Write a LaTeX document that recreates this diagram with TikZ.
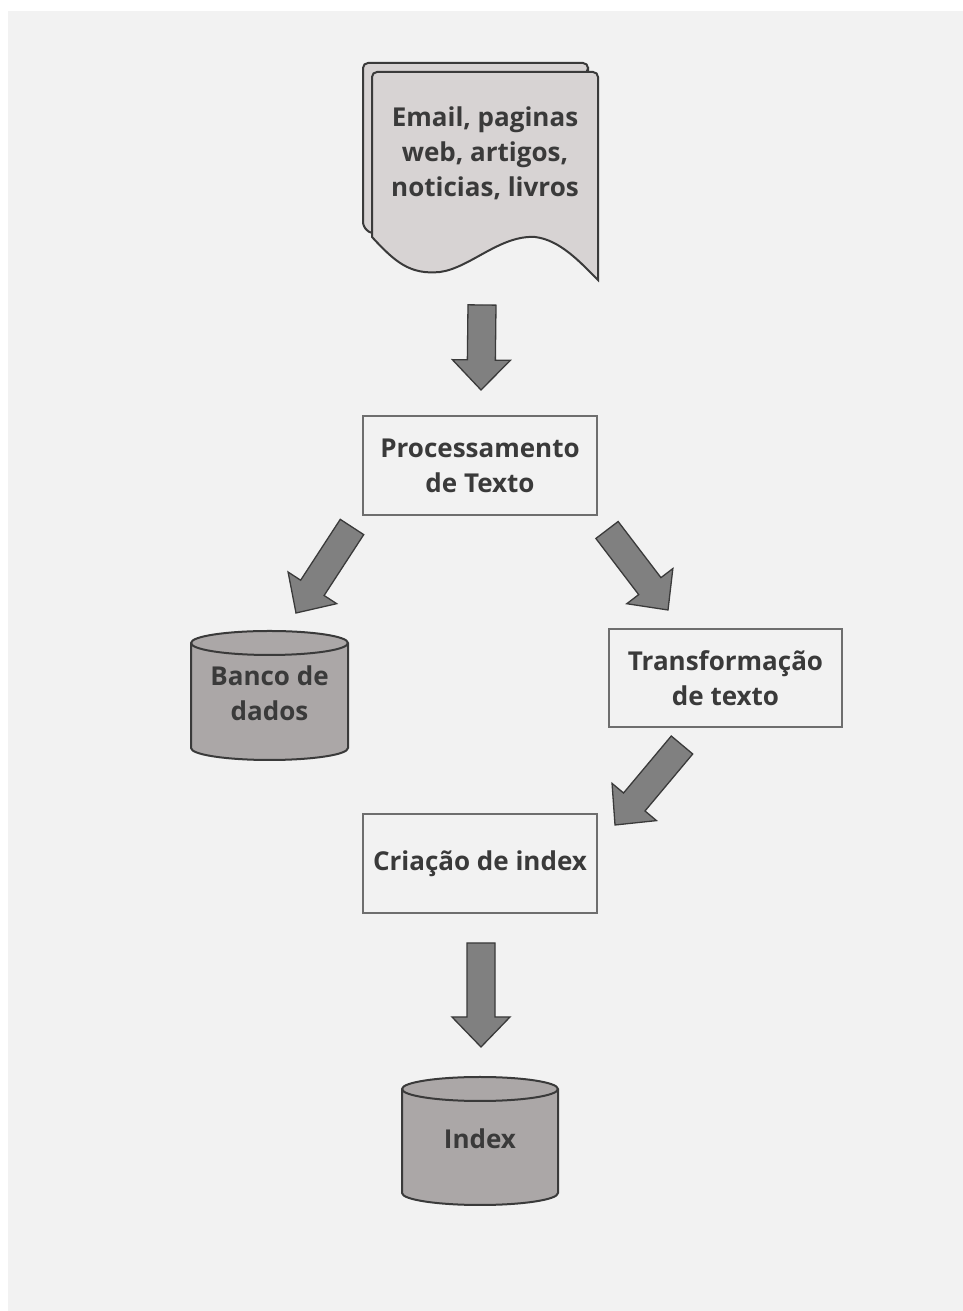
\documentclass[tikz,border=0pt]{standalone}
\usepackage{fontspec}
\setmainfont{Open Sans}
\usetikzlibrary{calc}
\definecolor{panel}{HTML}{F2F2F2}
\definecolor{ink}{HTML}{3A3A3A}
\definecolor{paper}{HTML}{D7D3D3}
\definecolor{drum}{HTML}{ABA7A7}
\definecolor{boxline}{HTML}{6E6E6E}
\definecolor{fatfill}{HTML}{808080}
\tikzset{
  fat arrow/.style={draw=ink, fill=fatfill, line width=1.3pt, line join=miter,
    to path={($(\tikztostart)!14pt!90:(\tikztotarget)$)
      -- ($(\tikztotarget)!30pt!(\tikztostart)!14pt!-90:(\tikztostart)$)
      -- ($(\tikztotarget)!30pt!(\tikztostart)!29pt!-90:(\tikztostart)$)
      -- (\tikztotarget)
      -- ($(\tikztotarget)!30pt!(\tikztostart)!29pt!90:(\tikztostart)$)
      -- ($(\tikztotarget)!30pt!(\tikztostart)!14pt!90:(\tikztostart)$)
      -- ($(\tikztostart)!14pt!-90:(\tikztotarget)$) -- cycle}}
}
\begin{document}
\begin{tikzpicture}[x=1pt,y=1pt,
  label text/.style={text=ink, font=\bfseries\fontsize{26}{35}\selectfont, align=center},
  stepbox/.style={label text, draw=boxline, line width=1.5pt, fill=panel,
    minimum width=234pt, minimum height=99pt, inner sep=0pt},
  store/.style={draw=ink, line width=2pt, fill=drum}]
\useasboundingbox (0,0) rectangle (963,1311);
\fill[white] (0,0) rectangle (963,1311);
\fill[panel] (8,0) rectangle (963,1300);

% documents
\filldraw[fill=paper, draw=ink, line width=2pt, rounded corners=5pt]
  (588,1239) -- (588,1248) -- (363,1248) -- (363,1084) -- (373,1076) -- cycle;
\filldraw[fill=paper, draw=ink, line width=2pt]
  (372,1074) [rounded corners=5pt] -- (372,1239) -- (598,1239) [sharp corners] -- (598,1031)
  .. controls (580,1049) and (560,1071) .. (535,1074)
  .. controls (500,1076) and (470,1043) .. (440,1039)
  .. controls (410,1036) and (395,1049) .. (372,1074) -- cycle;
\node[label text] (docs) at (485,1158) {Email, paginas\\web, artigos,\\noticias, livros};

% cylinders
\filldraw[store] (191,668) -- (191,563) arc[start angle=180, end angle=360, x radius=78.5, y radius=12]
  -- (348,668) arc[start angle=0, end angle=180, x radius=78.5, y radius=12] -- cycle;
\draw[store, fill=none] (191,668) arc[start angle=180, end angle=360, x radius=78.5, y radius=12];
\filldraw[store] (402,222) -- (402,118) arc[start angle=180, end angle=360, x radius=78, y radius=12]
  -- (558,222) arc[start angle=0, end angle=180, x radius=78, y radius=12] -- cycle;
\draw[store, fill=none] (402,222) arc[start angle=180, end angle=360, x radius=78, y radius=12];

\node[stepbox] (proc) at (480,845.5) {Processamento\\de Texto};
\node[label text] (banco) at (269.5,618) {Banco de\\dados};
\node[stepbox, minimum width=233pt, minimum height=98pt] (trans) at (725.5,633) {Transformação\\de texto};
\node[stepbox] (index) at (480,447.5) {Criação de index};
\node[label text] (idx) at (480,172) {Index};

\coordinate (a1s) at (482,1006);
\coordinate (a1e) at (481,921);
\coordinate (a2s) at (352,784);
\coordinate (a2e) at (296,698);
\coordinate (a3s) at (607,781);
\coordinate (a3e) at (668,701);
\coordinate (a4s) at (682,566);
\coordinate (a4e) at (615,486);
\coordinate (a5s) at (481,368);
\coordinate (a5e) at (481,264);
\foreach \a in {1,...,5}
  \draw[fat arrow] (a\a s) to (a\a e);
\end{tikzpicture}
\end{document}
